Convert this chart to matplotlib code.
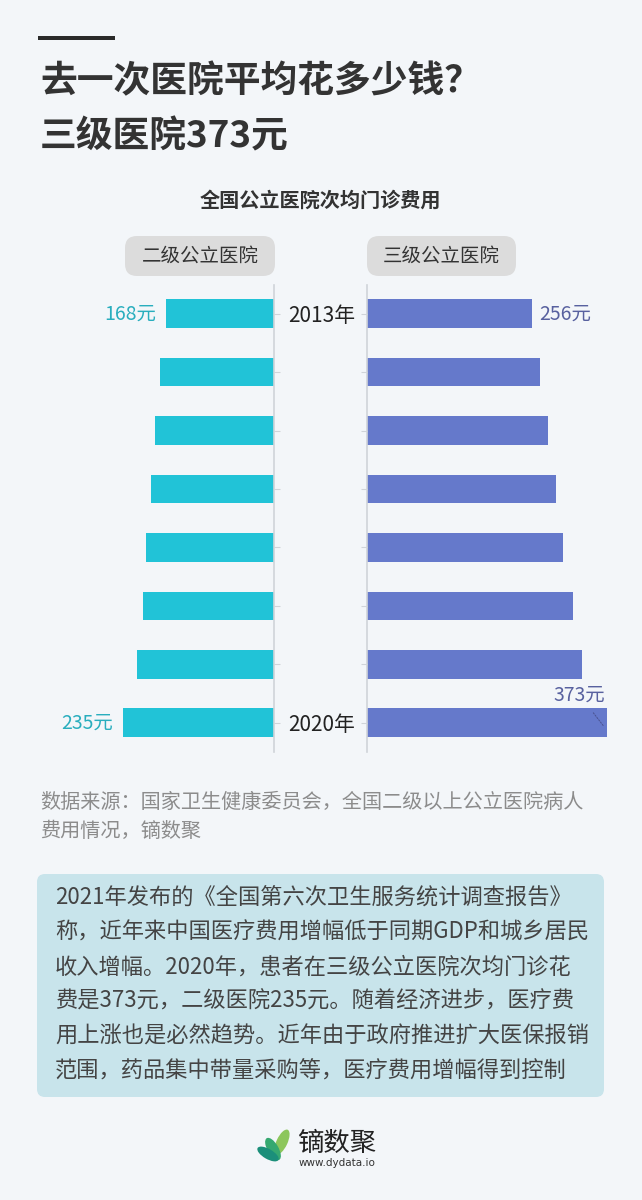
import matplotlib
matplotlib.use("Agg")
import matplotlib.pyplot as plt
from matplotlib.patches import FancyBboxPatch, Rectangle, Ellipse

plt.rcParams['font.family'] = ['Noto Sans CJK SC', 'DejaVu Sans']

# ---------------- data ----------------
years = ["2013年", "2014年", "2015年", "2016年", "2017年", "2018年", "2019年", "2020年"]
year_labels = ["2013年", "", "", "", "", "", "", "2020年"]
secondary = [168, 177, 184, 191, 198, 204, 213, 235]   # 二级公立医院
tertiary = [256, 269, 281, 294, 305, 320, 334, 373]    # 三级公立医院

title1 = "去一次医院平均花多少钱？"
title2 = "三级医院373元"
subtitle = "全国公立医院次均门诊费用"
left_name = "二级公立医院"
right_name = "三级公立医院"
source_lines = ["数据来源：国家卫生健康委员会，全国二级以上公立医院病人",
                "费用情况，镝数聚"]
note_lines = [
    "2021年发布的《全国第六次卫生服务统计调查报告》",
    "称，近年来中国医疗费用增幅低于同期GDP和城乡居民",
    "收入增幅。2020年，患者在三级公立医院次均门诊花",
    "费是373元，二级医院235元。随着经济进步，医疗费",
    "用上涨也是必然趋势。近年由于政府推进扩大医保报销",
    "范围，药品集中带量采购等，医疗费用增幅得到控制",
]

# ---------------- style ----------------
W, H, DPI = 642, 1200, 100
BG = "#f3f6f9"
TEAL = "#21c3d7"
TEAL_TXT = "#29aebe"
PURPLE = "#6579cb"
PURPLE_TXT = "#58619f"
AXIS_C = "#d0d4d9"
DARK = "#333333"

fig = plt.figure(figsize=(W / DPI, H / DPI), dpi=DPI, facecolor=BG)
tr = fig.dpi_scale_trans


def P(x, y):
    return (x / DPI, (H - y) / DPI)


def text(x, y, s, **kw):
    fig.text(*P(x, y), s, transform=tr, **kw)


def rbox(x0, y0, x1, y1, r, fc):
    fig.patches.append(FancyBboxPatch(P(x0, y1), (x1 - x0) / DPI, (y1 - y0) / DPI,
                                      boxstyle=f"round,pad=0,rounding_size={r / DPI}",
                                      transform=tr, fc=fc, ec="none", zorder=0))


# header bar
fig.patches.append(Rectangle(P(38, 40), 77 / DPI, 4.5 / DPI, transform=tr, fc="#2a2a2a", ec="none"))
text(40, 82, title1, fontsize=26.5, fontweight="bold", color=DARK, va="center", ha="left")
text(40, 137, title2, fontsize=26.5, fontweight="bold", color=DARK, va="center", ha="left")
text(320, 200, subtitle, fontsize=14.5, fontweight="bold", color=DARK, va="center", ha="center")

# pills
rbox(125, 236, 275, 276, 12, "#dcdcdc")
rbox(367, 236, 516, 276, 12, "#dcdcdc")
text(200, 256, left_name, fontsize=14, color=DARK, va="center", ha="center")
text(441.5, 256, right_name, fontsize=14, color=DARK, va="center", ha="center")

# ---------------- axes ----------------
ax_top, ax_bot = 284.5, 752
scale = 0.643  # px per unit
lw_px = 200
rw_px = 250
axL = fig.add_axes([(273.7 - lw_px) / W, 1 - ax_bot / H, lw_px / W, (ax_bot - ax_top) / H])
axR = fig.add_axes([367.3 / W, 1 - ax_bot / H, rw_px / W, (ax_bot - ax_top) / H])

ypos = list(range(len(years)))
for ax in (axL, axR):
    ax.set_facecolor("none")
    ax.set_ylim(len(years) - 0.5, -0.5)
    ax.xaxis.set_visible(False)
    for s in ax.spines.values():
        s.set_visible(False)

axL.barh(ypos, secondary, height=0.49, color=TEAL)
axL.set_xlim(lw_px / scale, 0)
axL.spines["right"].set_visible(True)
axL.spines["right"].set_color(AXIS_C)
axL.spines["right"].set_linewidth(1.2)
axL.yaxis.tick_right()
axL.set_yticks(ypos)
axL.set_yticklabels(year_labels, fontsize=15, color="#222222")
axL.tick_params(axis="y", direction="out", length=4, color=AXIS_C, width=0.8, pad=6.5)

axR.barh(ypos, tertiary, height=0.49, color=PURPLE)
axR.set_xlim(0, rw_px / scale)
axR.spines["left"].set_visible(True)
axR.spines["left"].set_color(AXIS_C)
axR.spines["left"].set_linewidth(1.2)
axR.set_yticks(ypos)
axR.set_yticklabels([])
axR.tick_params(axis="y", direction="out", length=4, color=AXIS_C, width=0.8)

# value labels
for i in (0, len(years) - 1):
    axL.annotate(f"{secondary[i]}元", xy=(secondary[i], i), xytext=(-7, 0),
                 textcoords="offset points", ha="right", va="center",
                 fontsize=14, color=TEAL_TXT)
axR.annotate(f"{tertiary[0]}元", xy=(tertiary[0], 0), xytext=(5, 0),
             textcoords="offset points", ha="left", va="center",
             fontsize=14, color=PURPLE_TXT)
last = len(years) - 1
axR.annotate(f"{tertiary[last]}元", xy=(tertiary[last] - 6, last + 0.05), xytext=(-17, 22),
             textcoords="offset points", ha="center", va="center",
             fontsize=14, color=PURPLE_TXT,
             arrowprops=dict(arrowstyle="-", color="#4a5290", lw=0.7, ls=(0, (1.5, 1.5)),
                             shrinkA=4, shrinkB=0))

# source
for k, line in enumerate(source_lines):
    text(40, 802 + 29 * k, line, fontsize=14.5, color="#8c8c8c", va="center", ha="left")

# note box
rbox(37, 874, 604, 1097, 8, "#c8e4eb")
for k, line in enumerate(note_lines):
    text(55, 897 + 34.8 * k, line, fontsize=16, color="#444444", va="center", ha="left")

# logo
fig.patches.append(Ellipse(P(282, 1142), 11 / DPI, 27 / DPI, angle=-25, transform=tr,
                           fc="#8cc65c", ec="none"))
fig.patches.append(Ellipse(P(273, 1149), 11 / DPI, 25 / DPI, angle=30, transform=tr,
                           fc="#35a870", ec="none"))
fig.patches.append(Ellipse(P(268, 1154), 10 / DPI, 24 / DPI, angle=60, transform=tr,
                           fc="#1b8f7a", ec="none"))
text(297, 1143, "镝数聚", fontsize=19, color="#222222", va="center", ha="left")
text(299, 1163, "www.dydata.io", fontsize=7.5, color="#333333", va="center", ha="left",
     family=["DejaVu Sans"])

fig.savefig("out.png", dpi=DPI, facecolor=BG)
